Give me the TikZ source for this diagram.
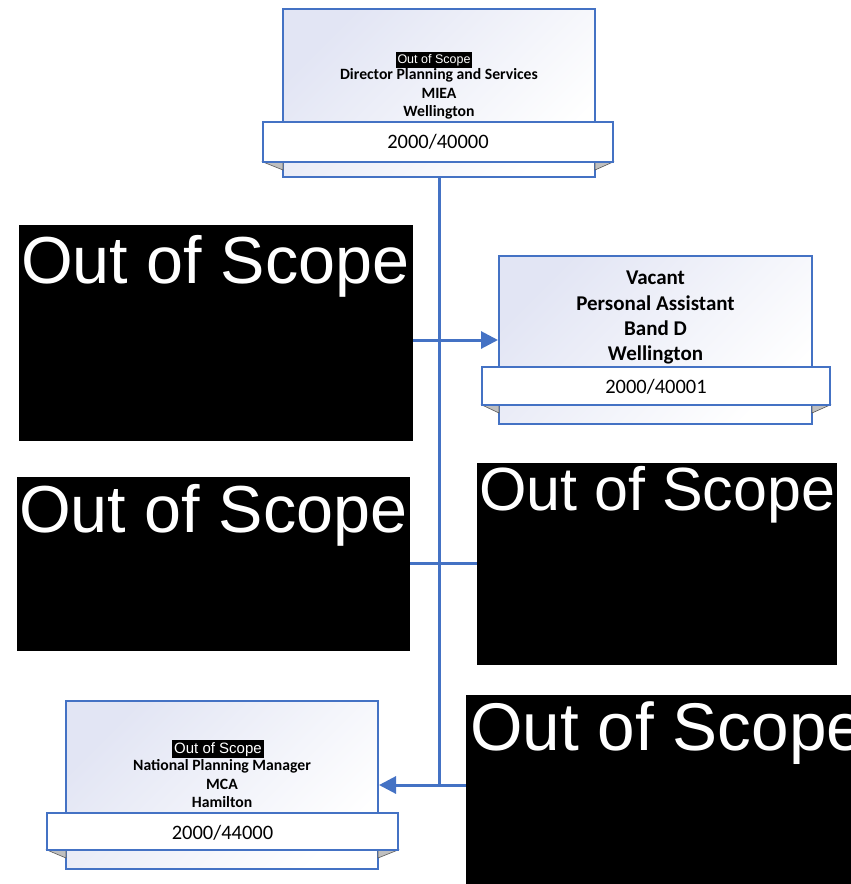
\documentclass[tikz,border=0pt]{standalone}
\usepackage{fontspec}
\setmainfont{Carlito}
\newfontfamily\arialfont{Liberation Sans}
\usetikzlibrary{arrows.meta}
\definecolor{lineblue}{HTML}{4472C4}
\definecolor{tint}{HTML}{E2E5F4}
\newcommand{\oosmark}[1]{{\setlength{\fboxsep}{2pt}\colorbox{black}{\arialfont\fontsize{#1}{#1}\selectfont\textcolor{white}{Out of Scope}}}}
\tikzset{
  posbox/.style={draw=lineblue, line width=2pt, top color=tint, bottom color=white, shading angle=45, inner sep=0pt},
  band/.style={draw=lineblue, line width=2pt, fill=white, inner sep=0pt},
  fold/.style={fill=gray!50, draw=gray!70!black, line width=0.6pt},
  redact/.style={fill=black, inner sep=0pt, anchor=north west},
  bigtxt/.style={text=white, anchor=base west, inner sep=0pt},
  nameline/.style={font=\bfseries\fontsize{15.7}{18}\selectfont, anchor=base, inner sep=0pt},
  paline/.style={font=\bfseries\fontsize{21}{25}\selectfont, anchor=base, inner sep=0pt},
  bandtxt/.style={font=\fontsize{20.5}{24}\selectfont, anchor=base, inner sep=0pt},
  conn/.style={draw=lineblue, line width=3pt},
  arr/.style={conn, -{Triangle[length=17pt,width=17pt]}}
}
\begin{document}
\begin{tikzpicture}[x=1pt,y=-1pt]
\useasboundingbox (0,0) rectangle (851,884);

% ---------- top position ----------
\node[posbox, minimum width=312pt, minimum height=168pt] (top) at (439,93) {};
\fill[fold] (263,162) -- (283,162) -- (283,170) -- cycle;
\fill[fold] (613,162) -- (595,162) -- (595,170) -- cycle;
\node[band, minimum width=350pt, minimum height=40pt] (topband) at (438,142) {};
\node[inner sep=0pt, anchor=base] (topoos) at (434,63) {\oosmark{12.5}};
\node[nameline] (topl1) at (439,79) {Director Planning and Services};
\node[nameline] (topl2) at (439,98) {MIEA};
\node[nameline] (topl3) at (439,116) {Wellington};
\node[bandtxt] (topnum) at (438,148) {2000/40000};

% ---------- personal assistant ----------
\node[posbox, minimum width=313pt, minimum height=168pt] (pa) at (655.5,340) {};
\fill[fold] (482,405) -- (499,405) -- (499,413) -- cycle;
\fill[fold] (830,405) -- (812,405) -- (812,413) -- cycle;
\node[band, minimum width=348pt, minimum height=38pt] (paband) at (656,386) {};
\node[paline] (pal1) at (655.5,284) {Vacant};
\node[paline] (pal2) at (655.5,310) {Personal Assistant};
\node[paline] (pal3) at (655.5,335) {Band D};
\node[paline] (pal4) at (655.5,360) {Wellington};
\node[bandtxt] (panum) at (656,393) {2000/40001};

% ---------- bottom-left position ----------
\node[posbox, minimum width=312pt, minimum height=168pt] (bl) at (222,785) {};
\fill[fold] (47,850) -- (66,850) -- (66,858) -- cycle;
\fill[fold] (398,850) -- (378,850) -- (378,858) -- cycle;
\node[band, minimum width=351pt, minimum height=37pt] (blband) at (222.5,831.5) {};
\node[inner sep=0pt, anchor=base] (bloos) at (218,753) {\oosmark{15}};
\node[nameline] (bll1) at (222,770) {National Planning Manager};
\node[nameline] (bll2) at (222,789) {MCA};
\node[nameline] (bll3) at (222,807) {Hamilton};
\node[bandtxt] (blnum) at (222.5,839) {2000/44000};

% ---------- redaction boxes ----------
\node[redact, minimum width=394pt, minimum height=216pt] (b1) at (19,225) {};
\node[bigtxt, font=\arialfont\fontsize{66.5}{70}\selectfont] (b1t) at (21,283) {Out of Scope};
\node[redact, minimum width=393pt, minimum height=174pt] (b2) at (17,477) {};
\node[bigtxt, font=\arialfont\fontsize{66.5}{70}\selectfont] (b2t) at (19,532) {Out of Scope};
\node[redact, minimum width=360pt, minimum height=202pt] (b3) at (477,463) {};
\node[bigtxt, font=\arialfont\fontsize{61}{64}\selectfont] (b3t) at (479,510) {Out of Scope};
\node[redact, minimum width=390pt, minimum height=190pt] (b4) at (466,695) {};
\node[bigtxt, font=\arialfont\fontsize{67.5}{70}\selectfont] (b4t) at (470,750) {Out of Scope};

% ---------- connectors ----------
\coordinate (mid) at (439,563);
\draw[conn] (top.south) -- (top.south |- bl.east);
\draw[arr] (b1.east |- pa.west) -- (pa.west);
\draw[conn] (b2.east |- mid) -- (b3.west |- mid);
\draw[arr] (b4.west |- bl.east) -- (bl.east);
\end{tikzpicture}
\end{document}
